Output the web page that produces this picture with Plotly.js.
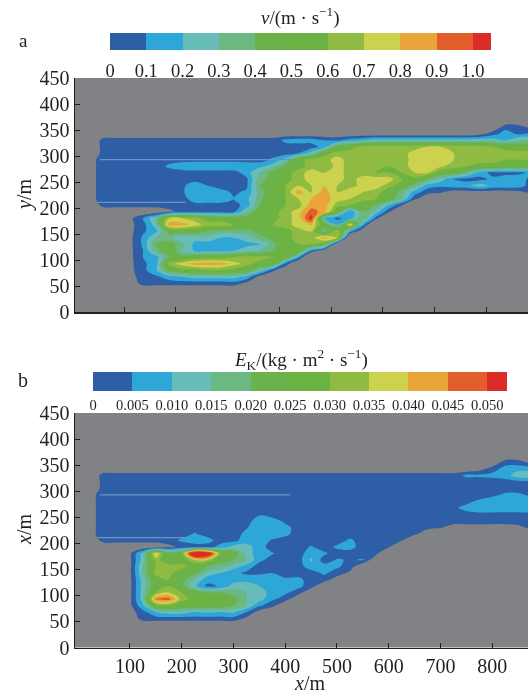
<!DOCTYPE html>
<html><head><meta charset="utf-8">
<script src="https://cdn.plot.ly/plotly-3.0.1.min.js"></script>
<style>html,body{margin:0;padding:0;background:#fff}#g{width:530px;height:693px;filter:blur(0.45px)}</style>
</head><body><div id="g"></div>
<script>
// grid of the two fields (metres)
const gridX = [25,50,75,100,125,150,175,200,225,250,275,300,325,350,375,400,425,450,475,500,525,550,575,600,625,650,675,700,725,750,775,800,825,850,875];
const gridY = [368,355.5,343,330.5,318,305.5,293,280.5,268,255.5,243,230.5,218,205.5,193,180.5,168,155.5,143,130.5,118,105.5,93,80.5,68,55.5,43];
const topAxisShift = 11.6; // panel a ticks sit 6 px left of those in panel b

// panel a: speed in 0.1 m/s, negative = outside the flow domain
const speedRows = [
[-1,-1,-1,-1,-1, -1,-1,-1,-1,-1, -1,-1,-1,-1,-1, -1,-1,-1,-1,-1, -1,-1,-1,-1,-1, -1,-1,-1,-1,-1, -1,-1,-1,-1,-1],
[-1,-1,-1,-1,-1, -1,-1,-1,-1,-1, -1,-1,-1,-1,-1, -1,-1,-1,-1,-1, -1,-1,-1,-1,-1, -1,-1,-1,-1,-1, -1,-1,.6,.5,-.3],
[-1,-1,-1,-1,-1, -1,-1,-1,-1,-1, -1,-1,-1,-1,-1, -1,-1,-1,-1,-1, -1,-1,-1,-1,-1, -1,-1,-1,-1,-1, -.5,.5,1.5,.8,1.2],
[-1,.5,.5,.5,.5, .5,.5,.5,.5,.5, .5,.5,.5,.5,.5, 1.2,1.5,1.5,1,.8, 1.5,2,2.5,2.5,2.5, 2.5,2.5,2.5,2.5,2.5, 2.5,2.5,2,3,3],
[-1,.5,.5,.5,.5, .5,.5,.5,.5,.5, .5,.5,.5,.5,.5, .7,.5,.5,1.5,4.5, 5.5,6.5,6.5,6.5,6.5, 6.5,7,7,6.5,6.5, 6.5,6,5.5,5,5],
[-1,.5,.5,.5,.5, .5,.5,.5,.5,.5, .5,.5,.5,.5,.5, .5,1,2.5,5.5,6.5, 6.5,6.5,6.5,6.5,6.5, 7.5,7.5,7.5,7,6.5, 6.5,6.5,6.5,6.5,6.5],
[-.3,.5,.5,.5,.5, .5,.5,.5,.5,.5, .5,.5,.5,.5,1.2, 2.5,5.5,6.5,6.5,7.5, 6.5,6.5,6.5,7,6.5, 7.5,7.5,7.5,7,6.5, 6.5,6.5,6,6,6],
[-.3,.5,.5,.5,.5, .5,1.2,1.7,2,2, 2,2,1.7,1.7,2.5, 4.5,5.5,6.5,6,7.5, 6.5,6.5,6.5,6,6.5, 7.5,7.5,7.2,6.5,6, 5.5,5.5,5,5,5],
[-.3,.5,.5,.5,.5, .5,.5,.5,.5,.5, .5,.5,1.5,3,4.5, 5.5,6.5,7.5,7,7.5, 6.5,6.5,6,6,6, 7,7,5,5,3.5, 1.5,.7,.7,.8,1.2],
[-.3,.5,.5,.5,.5, .5,.5,.5,.5,.5, .5,.5,.8,3.5,4.5, 5.5,6.5,7.5,7.5,7.5, 6.5,7.5,7.5,7.5,6, 5.5,4,2.5,1,.6, .7,1.2,1.5,1.5,.7],
[-.3,.5,.5,.5,.5, .5,.5,.7,1.7,1, .5,.5,.8,4,5, 6,7,7,8,7, 6.5,7.5,7.5,6.5,5, 3.5,1.5,1.2,1.6,1.7, 2.5,1.7,1.7,1.5,.5],
[-.3,.5,.5,.5,.5, .5,.5,.8,1.8,1.8, 1.5,.8,1.2,3.5,5, 6,8.5,7,8.5,7, 8,7,6.5,5,3.5, 1.5,.4,.1,-.5,-.5, -.5,-.5,-.5,-.3,.3],
[-.3,.5,.5,.5,.5, .5,.5,.6,1.5,1.7, 1.7,1,1.7,3.5,5.5, 6,7,8,8.5,7.5, 7,6.5,6,5,3, .3,-1,-1,-1,-1, -1,-1,-1,-1,-1],
[-1,.5,.5,.5,.5, .5,.5,.5,.7,.6, .6,.6,1.4,4,5.5, 6,6.5,8.5,8.5,6.5, 6,5,4,1.8,.1, -2,-1,-1,-1,-1, -1,-1,-1,-1,-1],
[-1,-1,-1,-1,-1, -1,-.3,.3,.5,.6, .6,.7,3,5,5.5, 6.5,7.5,9.5,8.5,5, 1,4,2.5,.3,-5, -1,-1,-1,-1,-1, -1,-1,-1,-1,-1],
[-1,-1,-1,-.3,1, 3,7,7,6.5,5.5, 5,5,4.5,5,5.5, 6.5,7.5,10.5,2,.7, 1.5,4,.6,-3,-1, -1,-1,-1,-1,-1, -1,-1,-1,-1,-1],
[-1,-1,-1,-.3,.6, 2.5,8.5,8.5,7.5,6.5, 7,6,5.5,5.5,6, 6.5,7.5,8,5,2, 8,1.5,-3,-1,-1, -1,-1,-1,-1,-1, -1,-1,-1,-1,-1],
[-1,-1,-1,-.3,.8, 1.7,4.5,5,5,4, 3.5,3.5,3.5,4.5,5, 5.5,6.5,7,3,7, 1.5,-1,-1,-1,-1, -1,-1,-1,-1,-1, -1,-1,-1,-1,-1],
[-1,-1,-1,-.3,1.2, 3,3.5,2,2.5,2.5, 2,2,2.5,3.5,4.5, 5.5,6.5,6.5,8.5,7, -2.7,-1,-1,-1,-1, -1,-1,-1,-1,-1, -1,-1,-1,-1,-1],
[-1,-1,-1,-.3,1.2, 4,4.5,3.5,1.7,1.7, 1.7,1.5,1.7,2,3.5, 5.5,6,6,5,-2, -1,-1,-1,-1,-1, -1,-1,-1,-1,-1, -1,-1,-1,-1,-1],
[-1,-1,-1,-.3,1, 3.5,5,3,1.8,1.7, 1.7,2,2.5,3,4, 5.5,5.5,1,-1,-1, -1,-1,-1,-1,-1, -1,-1,-1,-1,-1, -1,-1,-1,-1,-1],
[-1,-1,-1,-.3,1, 1.5,4,4.5,5,5.5, 5.5,6,6.5,6.5,6, 5.5,1.5,-3,-1,-1, -1,-1,-1,-1,-1, -1,-1,-1,-1,-1, -1,-1,-1,-1,-1],
[-1,-1,-1,-.3,.8, 1.5,6.5,7.5,8.5,8.5, 8.5,7.5,6.5,5.5,5.5, .7,-1.8,-1,-1,-1, -1,-1,-1,-1,-1, -1,-1,-1,-1,-1, -1,-1,-1,-1,-1],
[-1,-1,-1,-.3,.7, 1.8,4.5,5.5,5.5,6, 6,5.5,5,3,.3, -1,-1,-1,-1,-1, -1,-1,-1,-1,-1, -1,-1,-1,-1,-1, -1,-1,-1,-1,-1],
[-1,-1,-1,-.5,.6, .8,1.5,2,2.5,2.5, 2.5,2.5,1.8,-.5,-1, -1,-1,-1,-1,-1, -1,-1,-1,-1,-1, -1,-1,-1,-1,-1, -1,-1,-1,-1,-1],
[-1,-1,-1,-1,.5, .5,.5,.5,.5,.5, .5,.6,-.25,-1,-1, -1,-1,-1,-1,-1, -1,-1,-1,-1,-1, -1,-1,-1,-1,-1, -1,-1,-1,-1,-1],
[-1,-1,-1,-1,-1, -1,-1,-1,-1,-1, -1,-1,-1,-1,-1, -1,-1,-1,-1,-1, -1,-1,-1,-1,-1, -1,-1,-1,-1,-1, -1,-1,-1,-1,-1]
];

// panel b: kinetic energy in 0.005 kg·m²/s, negative = outside the flow domain
const energyRows = [
[-1,-1,-1,-1,-1, -1,-1,-1,-1,-1, -1,-1,-1,-1,-1, -1,-1,-1,-1,-1, -1,-1,-1,-1,-1, -1,-1,-1,-1,-1, -1,-1,-1,-1,-1],
[-1,-1,-1,-1,-1, -1,-1,-1,-1,-1, -1,-1,-1,-1,-1, -1,-1,-1,-1,-1, -1,-1,-1,-1,-1, -1,-1,-1,-1,-1, -1,-1,.5,.5,-.3],
[-1,-1,-1,-1,-1, -1,-1,-1,-1,-1, -1,-1,-1,-1,-1, -1,-1,-1,-1,-1, -1,-1,-1,-1,-1, -1,-1,-1,-1,-1, -.5,.5,1.4,1.6,1.5],
[-1,.5,.5,.5,.5, .5,.5,.5,.5,.5, .5,.5,.5,.5,.5, .5,.5,.5,.5,.5, .5,.5,.5,.5,.5, .5,.5,.5,.5,1.2, 1.2,1.3,1.5,2.7,2.7],
[-1,.5,.5,.5,.5, .5,.5,.5,.5,.5, .5,.5,.5,.5,.5, .5,.5,.5,.5,.5, .5,.5,.5,.5,.5, .5,.5,.5,.5,.5, .5,.5,.6,.7,.7],
[-1,.5,.5,.5,.5, .5,.5,.5,.5,.5, .5,.5,.5,.5,.5, .5,.5,.5,.5,.5, .5,.5,.5,.5,.5, .5,.5,.5,.5,.5, .5,.5,.5,.5,.5],
[-.3,.5,.5,.5,.5, .5,.5,.5,.5,.5, .5,.5,.5,.5,.5, .5,.9,.5,.5,.5, .5,.5,.5,.5,.5, .5,.5,.5,.5,.5, .5,.7,1.2,1.2,.8],
[-.3,.5,.5,.5,.5, .5,.5,.5,.5,.5, .5,.5,.5,.5,.5, .5,.5,.5,.5,.5, .5,.5,.5,.5,.5, .5,.5,.5,.5,.7, 1.2,1.7,1.7,1.7,1.6],
[-.3,.5,.5,.5,.5, .5,.5,.5,.5,.5, .5,.5,.5,.5,.5, .5,.5,.5,.5,.5, .5,.5,.5,.5,.5, .5,.5,.6,.8,1.3, 1.7,1.7,1.6,1.6,1.6],
[-.3,.5,.5,.5,.5, .5,.5,.5,.5,.5, .5,.5,.5,.9,.5, .5,.5,.5,.5,.5, .5,.5,.5,.5,.5, .5,.5,.9,.8,.7, .7,.7,.7,.7,.8],
[-.3,.5,.5,.5,.5, .5,.5,.5,.5,.5, .5,.5,.6,1.5,1.5, .7,.5,.5,.5,.5, .5,.5,.5,.5,.5, .5,.5,.5,.5,.5, .5,.5,.5,.5,.5],
[-.3,.5,.5,.5,.5, .5,.5,.5,.5,.5, .5,.5,.9,1.6,1.6, 1.4,.5,.5,.5,.5, .5,.5,.5,.5,.5, .5,.4,.1,-.5,-.5, -.5,-.5,-.5,-.3,.3],
[-.3,.5,.5,.5,.5, .5,.5,.5,1.1,.6, .5,.5,1.3,1.8,1.7, 1.3,.5,.5,.5,.5, .5,.5,.5,.5,.5, .3,-1,-1,-1,-1, -1,-1,-1,-1,-1],
[-1,.5,.5,.5,.5, .5,.5,1.2,1.5,1.4, .5,.7,1.5,1.5,.9, .5,.5,.5,.5,.5, 1.2,.5,.5,.6,.1, -2,-1,-1,-1,-1, -1,-1,-1,-1,-1],
[-1,-1,-1,-1,-1, -1,-.3,.3,.5,.5, 1.5,2.4,2.5,1.4,.6, .5,.5,1.1,.5,1.2, 1.4,.5,.5,.3,-5, -1,-1,-1,-1,-1, -1,-1,-1,-1,-1],
[-1,-1,-1,-.3,2.5, 8,4.5,5.5,13,12, 6,5,2.5,1.5,1.1, .5,.5,1.6,1.2,.5, .5,.5,.5,-2.5,-1, -1,-1,-1,-1,-1, -1,-1,-1,-1,-1],
[-1,-1,-1,-.3,2.5, 6.5,5,5,7,7, 4.5,4,3,1.3,.5, .5,.5,2.2,.5,1.1, .9,1.1,-1,-1,-1, -1,-1,-1,-1,-1, -1,-1,-1,-1,-1],
[-1,-1,-1,-.3,3, 6,6.5,6.5,5,4, 3.5,2.5,1.6,.5,.5, .5,.5,1.6,1.4,1.2, .5,-1,-1,-1,-1, -1,-1,-1,-1,-1, -1,-1,-1,-1,-1],
[-1,-1,-1,-.3,3, 6.5,6.5,5,4.5,2.5, 2,1.3,.8,.8,1, .5,.5,.5,1.2,.5, -.2,-1,-1,-1,-1, -1,-1,-1,-1,-1, -1,-1,-1,-1,-1],
[-1,-1,-1,-.3,2.5, 5,6,4.5,2.8,1.5, 1.3,1.5,1.7,1.7,1.7, 1.2,1.3,.5,.5,-.5, -1,-1,-1,-1,-1, -1,-1,-1,-1,-1, -1,-1,-1,-1,-1],
[-1,-1,-1,-.3,2.5, 5,6,4.5,2.2,.7, 1.1,2.5,2.5,2,1.7, 1.6,1.3,.5,-1,-1, -1,-1,-1,-1,-1, -1,-1,-1,-1,-1, -1,-1,-1,-1,-1],
[-1,-1,-1,-.3,2.5, 6,7,6,5,4, 4,3.5,3,2.5,1.6, 1.2,.5,-1,-1,-1, -1,-1,-1,-1,-1, -1,-1,-1,-1,-1, -1,-1,-1,-1,-1],
[-1,-1,-1,-.3,2.5, 9,9.5,6.5,5.5,5.5, 5,4.5,3,2.5,1.2, .5,-1,-1,-1,-1, -1,-1,-1,-1,-1, -1,-1,-1,-1,-1, -1,-1,-1,-1,-1],
[-1,-1,-1,-.3,1.8, 5.5,6,5,5,5, 5,4,3,1.2,.3, -1,-1,-1,-1,-1, -1,-1,-1,-1,-1, -1,-1,-1,-1,-1, -1,-1,-1,-1,-1],
[-1,-1,-1,-.5,.6, 2,2.5,2.5,2,2.2, 2,2.2,1,-.5,-1, -1,-1,-1,-1,-1, -1,-1,-1,-1,-1, -1,-1,-1,-1,-1, -1,-1,-1,-1,-1],
[-1,-1,-1,-1,.5, .5,.5,.5,.5,.5, .5,.6,-.25,-1,-1, -1,-1,-1,-1,-1, -1,-1,-1,-1,-1, -1,-1,-1,-1,-1, -1,-1,-1,-1,-1],
[-1,-1,-1,-1,-1, -1,-1,-1,-1,-1, -1,-1,-1,-1,-1, -1,-1,-1,-1,-1, -1,-1,-1,-1,-1, -1,-1,-1,-1,-1, -1,-1,-1,-1,-1]
];

// thin slits between the training-wall blocks
const slitUpperX = [42, 410], slitUpperY = [293, 293];
const slitLowerX = [38, 208], slitLowerY = [211, 211];
const slitColor = '#6f93c6';

const bandColors = ['#2e5fa6','#2ea6d8','#68bcb9','#6cb882','#6cb24a','#6cb343','#8fbb42','#ccd24e','#e9a53a','#e25f2c','#dc2c2a'];
const landColor = '#808285';
const speedEdges = [0,.1,.2,.3,.4,.5,.6,.7,.8,.9,1.0,1.05];
const speedTicks = [0,.1,.2,.3,.4,.5,.6,.7,.8,.9,1.0];
const speedLabels = ['0','0.1','0.2','0.3','0.4','0.5','0.6','0.7','0.8','0.9','1.0'];
const energyEdges = [0,.005,.01,.015,.02,.025,.03,.035,.04,.045,.05,.0525];
const energyTicks = [0,.005,.01,.015,.02,.025,.03,.035,.04,.045,.05];
const energyLabels = ['0','0.005','0.010','0.015','0.020','0.025','0.030','0.035','0.040','0.045','0.050'];
const xTicks = [100,200,300,400,500,600,700,800];
const yTicks = [0,50,100,150,200,250,300,350,400,450];

const W = 530, H = 693, serif = '"Liberation Serif", serif', ink = '#231f20';
const fx = p => p / W, fy = p => 1 - p / H;
const stops = [landColor].concat(bandColors).map((c, i, a) => [i / (a.length - 1), c]);
const barStops = bandColors.map((c, i, a) => [i / (a.length - 1), c]);
const ascY = gridY.slice().reverse();

function field(rows, dx, xa, ya) {
  return {type: 'contour', x: gridX.map(v => v + dx), y: ascY, z: rows.slice().reverse(),
    xaxis: xa, yaxis: ya, colorscale: stops, showscale: false, hoverinfo: 'skip',
    autocontour: false, contours: {start: 0, end: 10, size: 1, coloring: 'fill', showlines: false},
    line: {width: 0}};
}
function slit(xs, ys, dx, xa, ya) {
  return {type: 'scatter', mode: 'lines', x: xs.map(v => v + dx), y: ys, xaxis: xa, yaxis: ya,
    line: {color: slitColor, width: 1.2}, hoverinfo: 'skip'};
}
function bar(edges, xa, ya) {
  return {type: 'heatmap', x: edges, y: [0, 1], z: [bandColors.map((c, i) => i)],
    xaxis: xa, yaxis: ya, colorscale: barStops, zmin: 0, zmax: bandColors.length - 1,
    showscale: false, hoverinfo: 'skip'};
}
const plotX = (range, extra) => Object.assign({domain: [fx(75), fx(528)], range, tickmode: 'array', tickvals: xTicks,
  ticks: 'inside', ticklen: 5, tickwidth: 1, tickcolor: ink, showline: true, linecolor: ink, linewidth: 1.5,
  zeroline: false, showgrid: false, tickfont: {family: serif, size: 20, color: ink}}, extra);
const plotY = (dom, anchor) => ({domain: dom, range: [0, 450], anchor, tickmode: 'array', tickvals: yTicks,
  ticks: 'inside', ticklen: 5, tickwidth: 1, tickcolor: ink, showline: true, linecolor: ink, linewidth: 1.5,
  zeroline: false, showgrid: false, tickfont: {family: serif, size: 20, color: ink}});
const barX = (dom, range, vals, text, size, anchor, gap) => ({domain: dom, range, anchor, tickmode: 'array', tickvals: vals, ticktext: text,
  ticks: 'outside', ticklen: gap, tickcolor: 'rgba(0,0,0,0)', showline: false, zeroline: false, showgrid: false,
  tickangle: 0, tickfont: {family: serif, size, color: ink}});
const barY = (dom, anchor) => ({domain: dom, range: [0, 1], anchor, showticklabels: false, ticks: '', showline: false, zeroline: false, showgrid: false});
const note = (text, px, py, size, angle) => ({text, xref: 'paper', yref: 'paper', x: fx(px), y: fy(py), xanchor: 'center', yanchor: 'middle',
  showarrow: false, textangle: angle || 0, font: {family: serif, size, color: ink}});

const layout = {
  width: W, height: H, margin: {l: 0, r: 0, t: 0, b: 0}, showlegend: false,
  paper_bgcolor: '#fff', plot_bgcolor: landColor,
  xaxis: plotX([5.3, 880], {anchor: 'y', showticklabels: false}),
  yaxis: plotY([fy(312), fy(78)], 'x'),
  xaxis2: plotX([-6, 869], {anchor: 'y2'}),
  yaxis2: plotY([fy(647.5), fy(413)], 'x2'),
  xaxis3: barX([fx(110), fx(491)], [0, 1.05], speedTicks, speedLabels, 18.5, 'y3', 4),
  yaxis3: barY([fy(50), fy(33)], 'x3'),
  xaxis4: barX([fx(93), fx(507)], [0, .0525], energyTicks, energyLabels, 14.5, 'y4', 1),
  yaxis4: barY([fy(391), fy(372)], 'x4'),
  annotations: [
    note('<i>v</i>/(m · s<sup>−1</sup>)', 300, 17, 19),
    note('a', 23, 40, 19),
    note('<i>E</i><sub>K</sub>/(kg · m<sup>2</sup> · s<sup>−1</sup>)', 301, 360, 19),
    note('b', 23, 380, 20),
    note('<i>y</i>/m', 24, 195, 20, -90),
    note('<i>x</i>/m', 24, 530, 20, -90),
    note('<i>x</i>/m', 309, 683, 20)
  ]
};
const data = [
  field(speedRows, topAxisShift, 'x', 'y'),
  field(energyRows, 0, 'x2', 'y2'),
  slit(slitUpperX, slitUpperY, topAxisShift, 'x', 'y'),
  slit(slitLowerX, slitLowerY, topAxisShift, 'x', 'y'),
  slit(slitUpperX, slitUpperY, 0, 'x2', 'y2'),
  slit(slitLowerX, slitLowerY, 0, 'x2', 'y2'),
  bar(speedEdges, 'x3', 'y3'),
  bar(energyEdges, 'x4', 'y4')
];
Plotly.newPlot('g', data, layout, {staticPlot: true, displayModeBar: false});
</script></body></html>
